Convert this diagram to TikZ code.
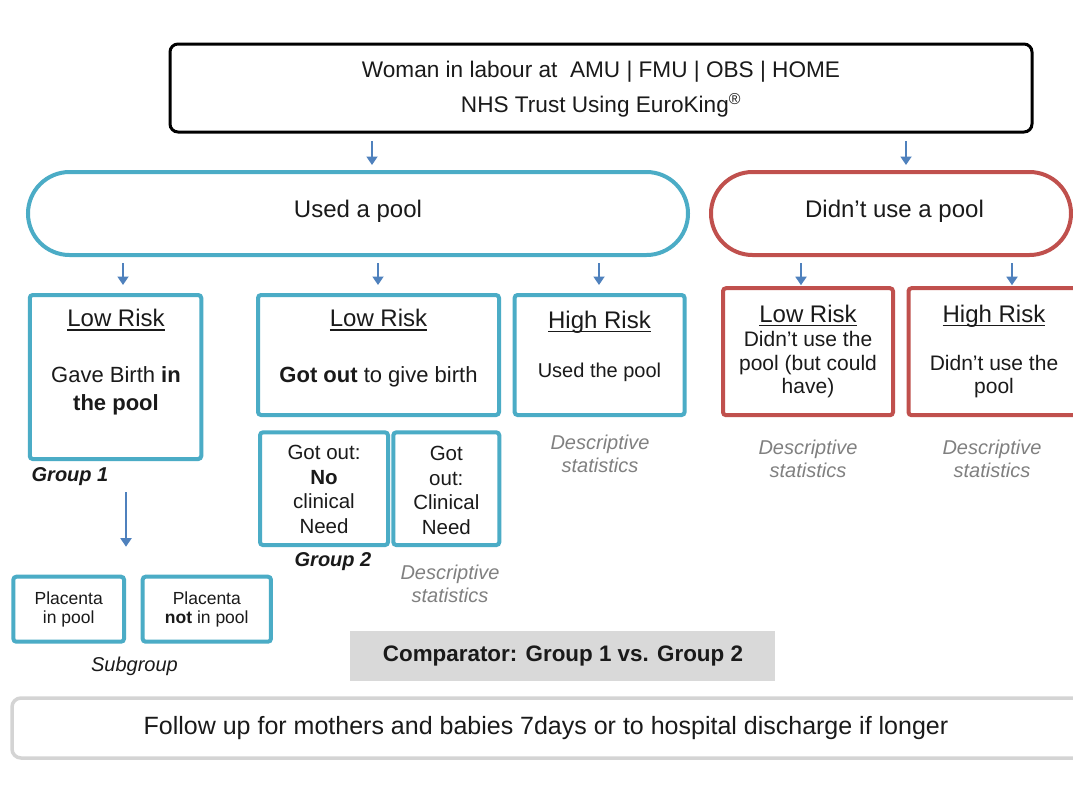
\documentclass[tikz,border=0pt]{standalone}
\usepackage{fontspec}
\setmainfont{Liberation Sans}
\usetikzlibrary{arrows.meta}
\definecolor{tealb}{HTML}{4BACC6}
\definecolor{redb}{HTML}{C0504D}
\definecolor{arrblue}{HTML}{4F81BD}
\definecolor{txt}{HTML}{1A1A1A}
\definecolor{desc}{HTML}{808080}
\definecolor{compfill}{HTML}{D9D9D9}
\definecolor{fubord}{HTML}{D4D4D4}
\newcommand\myul[1]{\setbox0\hbox{#1}\rlap{\rule[-4.3pt]{\wd0}{1.8pt}}\box0}
\newcommand\fsz[1]{\fontsize{#1}{#1}\selectfont}
\begin{document}
\begin{tikzpicture}[x=1pt,y=-1pt,
  box/.style={inner sep=0pt,outer sep=0pt,minimum width=#1},
  tbox/.style={box=#1,draw=tealb,line width=4pt,rounded corners=3pt},
  rbox/.style={box=#1,draw=redb,line width=4pt,rounded corners=3pt},
  tl/.style={anchor=base,inner sep=0pt,outer sep=0pt,text=txt},
  dl/.style={anchor=base,inner sep=0pt,outer sep=0pt,text=desc,font=\fsz{20}\itshape},
  arr/.style={draw=arrblue,line width=1.8pt,-{Triangle[length=8.5pt,width=11pt]}}]
\useasboundingbox (0,0) rectangle (1073,796);
\fill[white] (0,0) rectangle (1073,796);

% ---------- boxes ----------
\node[box=862pt,minimum height=88pt,draw=black,line width=3pt,rounded corners=8pt] (top) at (601,88) {};
\node[box=660pt,minimum height=83pt,draw=tealb,line width=4pt,rounded corners=41.5pt] (used) at (358,213.5) {};
\node[box=360pt,minimum height=83pt,draw=redb,line width=4pt,rounded corners=41.5pt] (notused) at (891,213.5) {};
\node[tbox=171.5pt,minimum height=164pt] (lr1) at (115.5,377) {};
\node[tbox=241pt,minimum height=120pt] (lr2) at (378.5,355) {};
\node[tbox=170pt,minimum height=120pt] (hr) at (599.6,355) {};
\node[rbox=170pt,minimum height=127pt] (rlr) at (808,351.7) {};
\node[rbox=184pt,minimum height=127pt] (rhr) at (1000.5,351.7) {};
\node[tbox=128pt,minimum height=112.7pt] (gleft) at (324,488.7) {};
\node[tbox=106pt,minimum height=112.7pt] (gright) at (446.3,488.7) {};
\node[tbox=110.7pt,minimum height=65pt] (pleft) at (68.7,609.2) {};
\node[tbox=128.3pt,minimum height=65pt] (pright) at (206.8,609.2) {};
\node[box=425pt,minimum height=50pt,fill=compfill] (comp) at (562.5,655.7) {};
\node[box=1078pt,minimum height=60pt,draw=fubord,line width=3.5pt,rounded corners=9pt] (fu) at (551,728) {};

% ---------- texts ----------
\node[tl,font=\fsz{22.6}] (topa) at (601,77.3) {Woman in labour at~ AMU | FMU | OBS | HOME};
\node[tl,font=\fsz{22.6}] (topb) at (601,112) {NHS Trust Using EuroKing\textsuperscript{®}};
\node[tl,font=\fsz{24}] (usedt) at (358,217) {Used a pool};
\node[tl,font=\fsz{24}] (notusedt) at (894.5,217) {Didn't use a pool};

\node[tl,font=\fsz{24}] (lr1a) at (116,326.7) {\myul{Low Risk}};
\node[tl,font=\fsz{22}] (lr1b) at (116,382.7) {Gave Birth \textbf{in}};
\node[tl,font=\fsz{22}] (lr1c) at (116,410.5) {\textbf{the pool}};

\node[tl,font=\fsz{24}] (lr2a) at (378.5,326.7) {\myul{Low Risk}};
\node[tl,font=\fsz{22}] (lr2b) at (378.5,382.7) {\textbf{Got out} to give birth};

\node[tl,font=\fsz{24}] (hra) at (599.5,328) {\myul{High Risk}};
\node[tl,font=\fsz{20}] (hrb) at (599.5,377) {Used the pool};

\node[tl,font=\fsz{24}] (rlra) at (808,322) {\myul{Low Risk}};
\node[tl,font=\fsz{21}] (rlrb) at (808,346.5) {Didn't use the};
\node[tl,font=\fsz{21}] (rlrc) at (808,370) {pool (but could};
\node[tl,font=\fsz{21}] (rlrd) at (808,393.5) {have)};

\node[tl,font=\fsz{24}] (rhra) at (994,322) {\myul{High Risk}};
\node[tl,font=\fsz{21}] (rhrb) at (994,370) {Didn't use the};
\node[tl,font=\fsz{21}] (rhrc) at (994,393.5) {pool};

\node[dl] (d1a) at (600,449) {Descriptive};
\node[dl] (d1b) at (600,472) {statistics};
\node[dl] (d2a) at (808,454) {Descriptive};
\node[dl] (d2b) at (808,477) {statistics};
\node[dl] (d3a) at (992,454) {Descriptive};
\node[dl] (d3b) at (992,477) {statistics};

\node[tl,font=\fsz{20}\bfseries\itshape] (g1) at (70,481.7) {Group 1};

\node[tl,font=\fsz{20.5}] (gla) at (324,459.3) {Got out:};
\node[tl,font=\fsz{20.5}] (glb) at (324,484) {\textbf{No}};
\node[tl,font=\fsz{20.5}] (glc) at (324,508.7) {clinical};
\node[tl,font=\fsz{20.5}] (gld) at (324,533.4) {Need};

\node[tl,font=\fsz{20.5}] (gra) at (446.3,460.5) {Got};
\node[tl,font=\fsz{20.5}] (grb) at (446.3,485) {out:};
\node[tl,font=\fsz{20.5}] (grc) at (446.3,509.5) {Clinical};
\node[tl,font=\fsz{20.5}] (grd) at (446.3,534) {Need};

\node[tl,font=\fsz{20}\bfseries\itshape] (g2) at (333,566.7) {Group 2};
\node[dl] (d4a) at (450,579) {Descriptive};
\node[dl] (d4b) at (450,602) {statistics};

\node[tl,font=\fsz{17.5}] (pla) at (68.7,604.3) {Placenta};
\node[tl,font=\fsz{17.5}] (plb) at (68.7,623.3) {in pool};
\node[tl,font=\fsz{17.5}] (pra) at (206.8,604.3) {Placenta};
\node[tl,font=\fsz{17.5}] (prb) at (206.8,623.3) {\textbf{not} in pool};
\node[tl,font=\fsz{20}\itshape] (sub) at (134.5,671.7) {Subgroup};

\node[tl,font=\fsz{22.4}\bfseries] (compt) at (563,661.7) {Comparator: Group 1 vs. Group 2};
\node[tl,font=\fsz{25}] (fut) at (546,734) {Follow up for mothers and babies 7days or to hospital discharge if longer};

% ---------- arrows ----------
\draw[arr] ([xshift=-229pt,yshift=-9pt]top.south) -- ([xshift=14pt,yshift=7pt]used.north);
\draw[arr] ([xshift=305pt,yshift=-9pt]top.south) -- ([xshift=15pt,yshift=7pt]notused.north);
\draw[arr] ([xshift=-235pt,yshift=-8pt]used.south) -- ([xshift=7.5pt,yshift=10pt]lr1.north);
\draw[arr] ([xshift=20pt,yshift=-8pt]used.south) -- ([xshift=-0.5pt,yshift=10pt]lr2.north);
\draw[arr] ([xshift=241pt,yshift=-8pt]used.south) -- ([xshift=-0.6pt,yshift=10pt]hr.north);
\draw[arr] ([xshift=-90pt,yshift=-8pt]notused.south) -- ([xshift=-7pt,yshift=3pt]rlr.north);
\draw[arr] ([xshift=121pt,yshift=-8pt]notused.south) -- ([xshift=11.5pt,yshift=3pt]rhr.north);
\draw[arr] ([xshift=10.5pt,yshift=-33pt]lr1.south) -- ([xshift=57.3pt,yshift=30pt]pleft.north);
\end{tikzpicture}
\end{document}
